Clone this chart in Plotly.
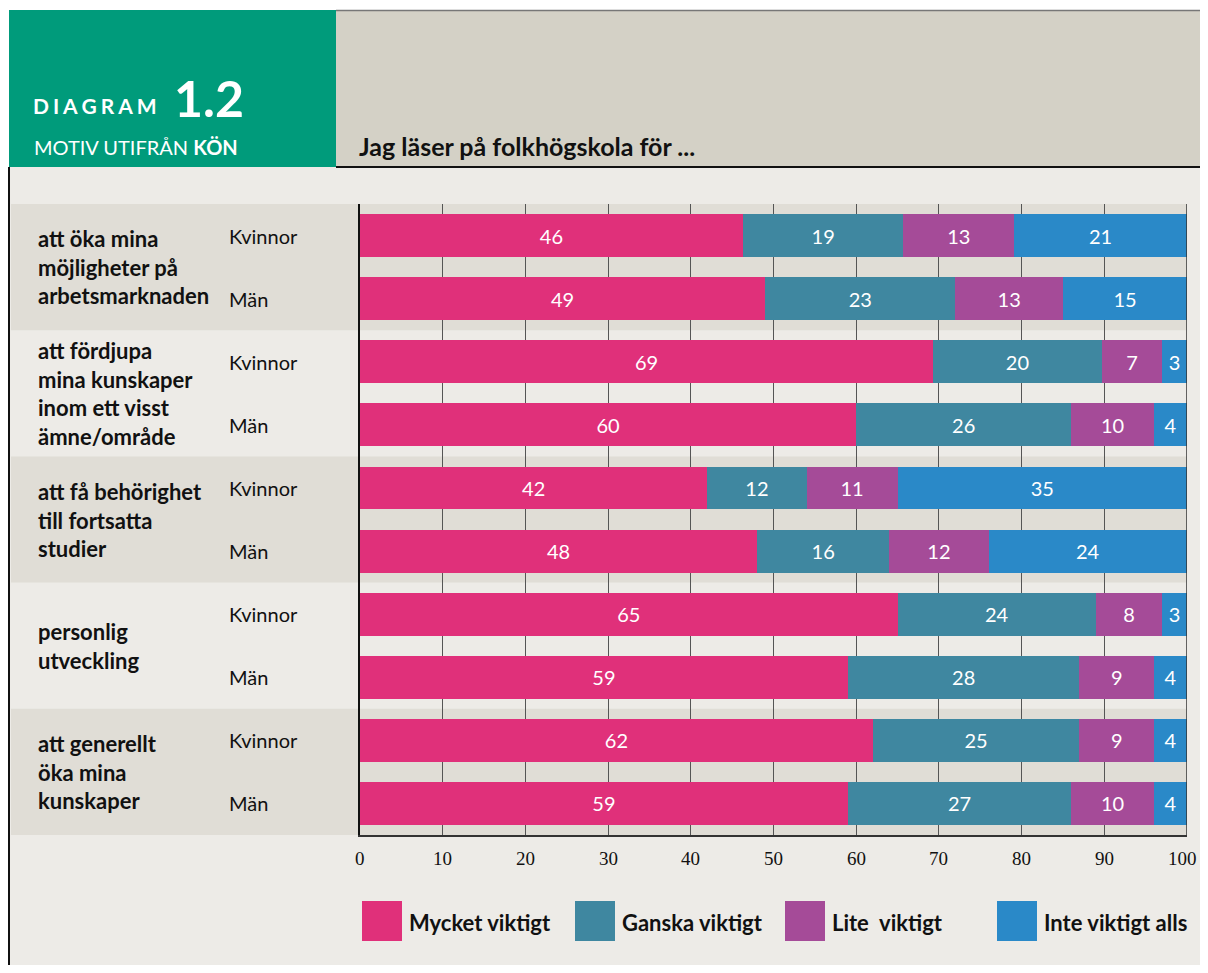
import plotly.graph_objects as go

# Motiv utifrån kön – andel (%) per svarsalternativ
groups = [
    "att öka mina<br>möjligheter på<br>arbetsmarknaden",
    "att fördjupa<br>mina kunskaper<br>inom ett visst<br>ämne/område",
    "att få behörighet<br>till fortsatta<br>studier",
    "personlig<br>utveckling",
    "att generellt<br>öka mina<br>kunskaper",
]
genders = ["Kvinnor", "Män"]

mycket = [46.3, 49, 69.3, 60, 42, 48, 65, 59, 62, 59]
ganska = [19.4, 23, 20.4, 26, 12, 16, 24, 28, 25, 27]
lite = [13.4, 13, 7.3, 10, 11, 12, 8, 9, 9, 10]
inte = [20.9, 15, 3.0, 4, 35, 24, 3, 4, 4, 4]

series_names = ["Mycket viktigt", "Ganska viktigt", "Lite  viktigt", "Inte viktigt alls"]
colors = ["#e0307a", "#3f87a0", "#a54b98", "#2a89c8"]
x_ticks = [0, 10, 20, 30, 40, 50, 60, 70, 80, 90, 100]

# page has an 8px body margin, so the figure starts at (8, 8)
OFF = 8
W, H = 1192, 957
L, R, T, B = 360, 1187, 204, 835   # plot area in page pixels


def px(x):
    return (x - L) / (R - L)


def py(y):
    return 1 - (y - T) / (B - T)


SANS = "Lato"
rows = list(range(len(mycket)))

fig = go.Figure()
for name, vals, col in zip(series_names, [mycket, ganska, lite, inte], colors):
    fig.add_trace(go.Bar(
        y=rows, x=vals, orientation="h", name=name,
        marker=dict(color=col, line=dict(width=0)),
        text=[f"{v:.0f}" for v in vals],
        textposition="inside", insidetextanchor="middle",
        constraintext="none", textangle=0,
        textfont=dict(family=SANS, size=20, color="white"),
        hoverinfo="x+name", showlegend=False,
    ))

shapes = []
# header blocks
shapes.append(dict(type="rect", xref="paper", yref="paper", x0=px(9), x1=px(336),
                   y0=py(167), y1=py(10), fillcolor="#009b7b", line_width=0, layer="below"))
shapes.append(dict(type="rect", xref="paper", yref="paper", x0=px(336), x1=px(1210),
                   y0=py(167), y1=py(10), fillcolor="#d4d1c6", line_width=0, layer="below"))
shapes.append(dict(type="line", xref="paper", yref="paper", x0=px(336), x1=px(1210),
                   y0=py(10.5), y1=py(10.5), line=dict(color="#777", width=1.5)))
shapes.append(dict(type="line", xref="paper", yref="paper", x0=px(336), x1=px(1210),
                   y0=py(167), y1=py(167), line=dict(color="#111", width=2)))
# body
shapes.append(dict(type="rect", xref="paper", yref="paper", x0=px(9), x1=px(1210),
                   y0=py(975), y1=py(167), fillcolor="#edebe7", line_width=0, layer="below"))
shapes.append(dict(type="line", xref="paper", yref="paper", x0=px(9), x1=px(9),
                   y0=py(975), y1=py(167), line=dict(color="#111", width=2)))
# alternating bands
for i in range(len(groups)):
    if i % 2 == 0:
        shapes.append(dict(type="rect", xref="paper", yref="y", x0=px(11), x1=1,
                           y0=2 * i - 0.5, y1=2 * i + 1.5, fillcolor="#e0ddd6",
                           line_width=0, layer="below"))
# right border at 100
shapes.append(dict(type="line", xref="x", yref="paper", x0=100, x1=100, y0=0, y1=1,
                   line=dict(color="#333", width=1.5)))

annotations = []
# header text
sp = "\u2009\u200a"
annotations.append(dict(text="<b>" + sp.join("DIAGRAM") + "</b>", xref="paper", yref="paper",
                        x=px(31), y=py(106), xanchor="left", yanchor="middle", showarrow=False,
                        font=dict(family=SANS, size=21, color="white")))
annotations.append(dict(text="<b>1.2</b>", xref="paper", yref="paper",
                        x=px(172), y=py(98), xanchor="left", yanchor="middle", showarrow=False,
                        font=dict(family=SANS, size=50, color="white")))
annotations.append(dict(text="MOTIV UTIFRÅN <b>KÖN</b>", xref="paper", yref="paper",
                        x=px(32), y=py(147), xanchor="left", yanchor="middle", showarrow=False,
                        font=dict(family=SANS, size=20, color="white")))
annotations.append(dict(text="<b>Jag läser på folkhögskola för ...</b>", xref="paper", yref="paper",
                        x=px(357), y=py(146), xanchor="left", yanchor="middle", showarrow=False,
                        font=dict(family=SANS, size=25, color="#111")))

# row labels
for i, g in enumerate(groups):
    annotations.append(dict(text=f"<b>{g}</b>", xref="paper", yref="y",
                            x=px(36), y=2 * i + 0.5, xanchor="left", yanchor="middle",
                            align="left", showarrow=False,
                            font=dict(family=SANS, size=22, color="#111")))
for r in rows:
    annotations.append(dict(text=genders[r % 2], xref="paper", yref="y",
                            x=px(227), y=r, xanchor="left", yanchor="middle",
                            showarrow=False, font=dict(family=SANS, size=20, color="#111")))

# x tick labels (annotations; the last one is kept inside the figure edge)
for t in x_ticks:
    if t == x_ticks[-1]:
        annotations.append(dict(text=str(t), xref="paper", yref="paper", x=px(1199), y=py(858),
                                xanchor="right", yanchor="middle", showarrow=False,
                                font=dict(family="Liberation Serif", size=19, color="#111")))
    else:
        annotations.append(dict(text=str(t), xref="x", yref="paper", x=t, y=py(858),
                                xanchor="center", yanchor="middle", showarrow=False,
                                font=dict(family="Liberation Serif", size=19, color="#111")))

# legend
leg_x = [362, 575, 785, 997]
for name, col, lx in zip(series_names, colors, leg_x):
    shapes.append(dict(type="rect", xref="paper", yref="paper", x0=px(lx), x1=px(lx + 40),
                       y0=py(941), y1=py(901), fillcolor=col, line_width=0))
    annotations.append(dict(text=f"<b>{name.replace('  ', '&nbsp; ')}</b>", xref="paper", yref="paper",
                            x=px(lx + 45), y=py(922), xanchor="left", yanchor="middle",
                            showarrow=False, font=dict(family=SANS, size=22, color="#111")))

fig.update_layout(
    width=W, height=H,
    margin=dict(l=L - OFF, r=W + OFF - R, t=T - OFF, b=H + OFF - B, pad=0, autoexpand=False),
    barmode="stack", bargap=0.32,
    paper_bgcolor="white", plot_bgcolor="rgba(0,0,0,0)",
    shapes=shapes, annotations=annotations,
    xaxis=dict(range=[0, 100], tickvals=x_ticks, showgrid=True, gridcolor="#555",
               gridwidth=1, zeroline=False, showline=True, linecolor="#333", linewidth=1.5,
               ticks="", showticklabels=False, automargin=False, fixedrange=True),
    yaxis=dict(range=[9.5, -0.5], showticklabels=False, showgrid=False, zeroline=False,
               showline=True, linecolor="#111", linewidth=2, ticks="", automargin=False,
               fixedrange=True),
)

fig.write_html("out.html")
